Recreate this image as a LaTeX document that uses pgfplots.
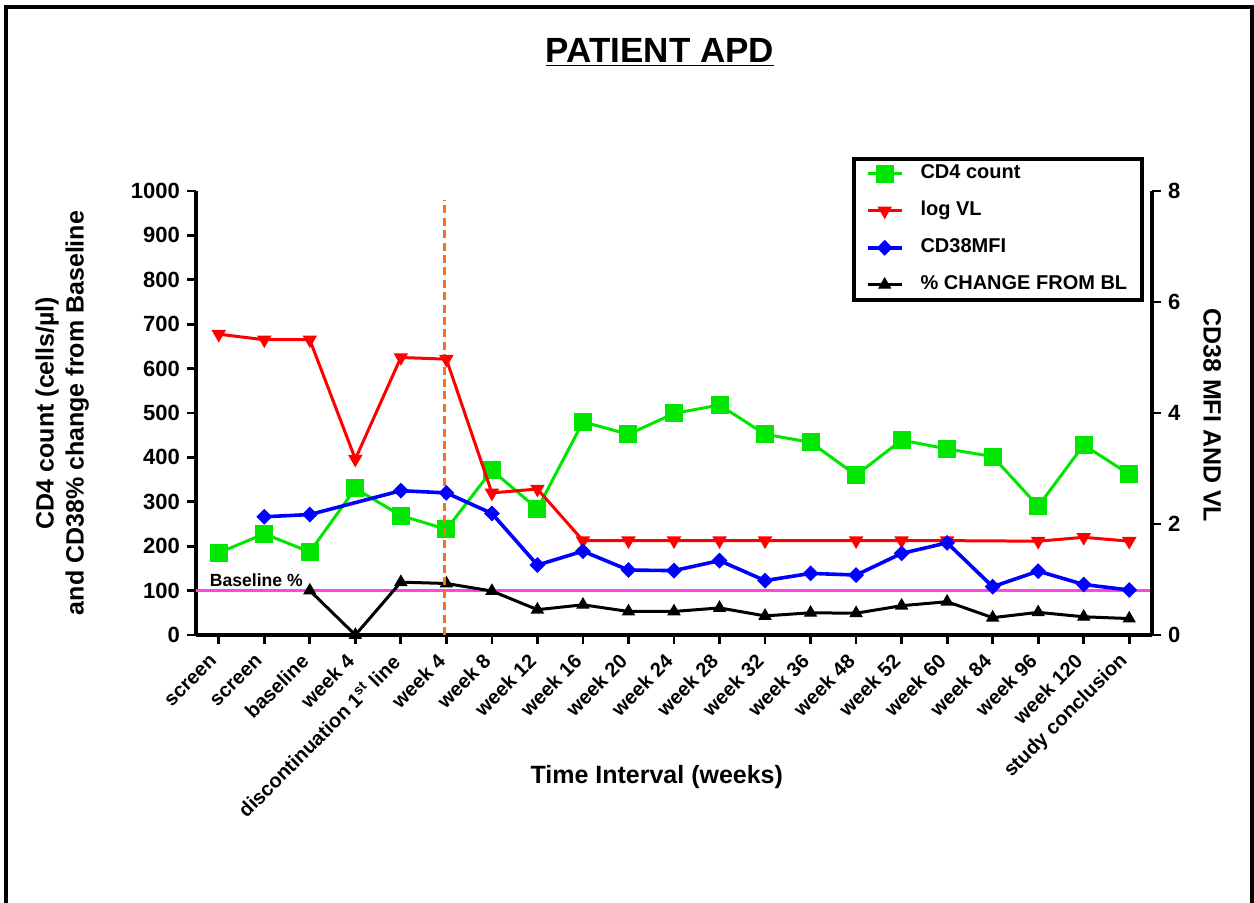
\documentclass[border=0pt]{standalone}
\usepackage{fontspec}
\setmainfont{Liberation Sans}
\usepackage{pgfplots}
\pgfplotsset{compat=1.18}

\definecolor{cdgreen}{RGB}{0,230,0}
\definecolor{blpink}{RGB}{255,70,220}
\definecolor{vorange}{RGB}{255,110,30}

\pgfplotsset{
  cdfour/.style={color=cdgreen, line width=1.5pt, mark=square*, mark size=4.2pt, mark options={solid, line width=0.6pt}},
  logvl/.style={color=red, line width=1.5pt, mark=triangle*, mark size=3.6pt, mark options={solid, rotate=180, line width=0.6pt}},
  cdmfi/.style={color=blue, line width=1.8pt, mark=square*, mark size=2.5pt, mark options={solid, rotate=45, line width=0.6pt}},
  pctbl/.style={color=black, line width=1.5pt, mark=triangle*, mark size=3.3pt, mark options={solid, line width=0.6pt}},
  common/.style={
    at={(98pt,134pt)}, anchor=south west,
    scale only axis, width=478pt, height=222pt,
    xmin=-0.5, xmax=20.5,
    clip=false,
    tick align=outside, major tick length=4.5pt,
    every tick/.style={black, line width=1.4pt},
    axis line style={line width=2pt},
    /pgf/number format/assume math mode=true,
    /pgf/number format/1000 sep={},
    yticklabel style={font=\fontsize{11}{13}\selectfont\bfseries},
  },
}

\begin{document}
\begin{tikzpicture}
\useasboundingbox (0,0) rectangle (627pt,451.5pt);
\draw[line width=2pt] (2.75pt,0) -- (2.75pt,448pt) -- (626pt,448pt) -- (626pt,0);
\node[anchor=base, font=\fontsize{17.5}{20}\selectfont\bfseries] at (330pt,420pt) {\underline{PATIENT APD}};

\begin{axis}[
  common,
  ymin=0, ymax=1000,
  axis x line*=bottom, axis y line*=left,
  xtick={0,...,20},
  xticklabels={screen, screen, baseline, week 4, discontinuation 1\textsuperscript{st} line,
    week 4, week 8, week 12, week 16, week 20, week 24, week 28, week 32, week 36,
    week 48, week 52, week 60, week 84, week 96, week 120, study conclusion},
  xticklabel style={rotate=45, anchor=east, font=\fontsize{10}{12}\selectfont\bfseries},
  xticklabel shift=4.5pt,
  ytick={0,100,...,1000},
  xlabel={Time Interval (weeks)},
  xlabel style={at={(axis description cs:0.482,-0.32)}, anchor=center, font=\fontsize{12.5}{15}\selectfont\bfseries},
  ylabel={CD4 count (cells/µl)\\and CD38\% change from Baseline},
  ylabel style={at={(axis description cs:-0.14,0.5)}, anchor=center, align=center, font=\fontsize{12.5}{15}\selectfont\bfseries},
]
\addplot[color=blpink, line width=1.5pt, forget plot] coordinates {(-0.5,100) (20.5,100)};
\node[anchor=base west, font=\fontsize{8.8}{10}\selectfont\bfseries] at (axis cs:-0.35,110) {Baseline \%};

\addplot[cdfour] coordinates {
  (0,185) (1,228) (2,187) (3,330) (4,269) (5,238) (6,371) (7,284) (8,480) (9,452)
  (10,499) (11,518) (12,452) (13,434) (14,360) (15,439) (16,419) (17,402) (18,290)
  (19,428) (20,362)
};
\addplot[pctbl] coordinates {
  (2,100) (3,0) (4,119) (5,116) (6,99) (7,57) (8,68) (9,53) (10,53) (11,61)
  (12,43) (13,50) (14,49) (15,66) (16,75) (17,39) (18,51) (19,41) (20,37)
};
\end{axis}

\begin{axis}[
  common,
  ymin=0, ymax=8,
  axis x line=none, axis y line*=right,
  ytick={0,2,...,8},
  ylabel={CD38 MFI AND VL},
  ylabel style={at={(axis description cs:1.063,0.495)}, anchor=center, rotate=180, font=\fontsize{12.5}{15}\selectfont\bfseries},
  legend cell align=left,
  legend style={at={(0.6862,1.0766)}, anchor=north west, draw=black, line width=1.8pt,
    inner xsep=6pt, inner ysep=1.5pt, row sep=6.5pt,
    font=\fontsize{10}{12}\selectfont\bfseries,
    nodes={inner sep=1.5pt, text height=7pt, text depth=2pt},
    /tikz/every odd column/.append style={column sep=7pt}},
]
\addlegendimage{cdfour}
\addlegendentry{CD4 count}
\addplot[logvl] coordinates {
  (0,5.42) (1,5.32) (2,5.32) (3,3.17) (4,5.00) (5,4.97) (6,2.56) (7,2.63) (8,1.70)
  (9,1.70) (10,1.70) (11,1.70) (12,1.70) (14,1.70) (15,1.70) (16,1.70) (18,1.69)
  (19,1.76) (20,1.69)
};
\addlegendentry{log VL}
\addplot[cdmfi] coordinates {
  (1,2.13) (2,2.17) (4,2.60) (5,2.56) (6,2.19) (7,1.26) (8,1.51) (9,1.17) (10,1.16)
  (11,1.34) (12,0.98) (13,1.11) (14,1.08) (15,1.47) (16,1.66) (17,0.87) (18,1.15)
  (19,0.91) (20,0.81)
};
\addlegendentry{CD38MFI}
\addlegendimage{pctbl}
\addlegendentry{\% CHANGE FROM BL}
\draw[vorange, line width=1.5pt, dash pattern=on 4pt off 2.2pt] (axis cs:4.95,0) -- (axis cs:4.95,7.84);
\end{axis}
\end{tikzpicture}
\end{document}
